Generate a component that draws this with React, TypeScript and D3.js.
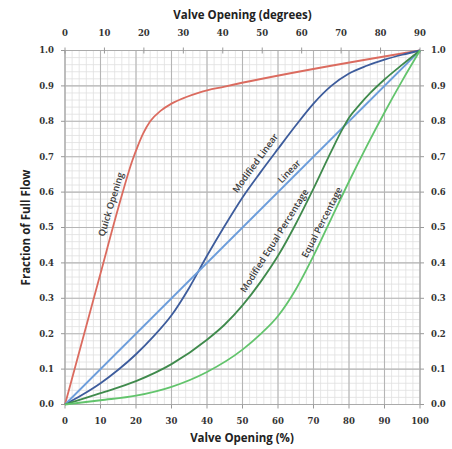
import React from 'react';
import * as d3 from 'd3';

// valve opening (%) vs fraction of full flow
const quickX = [0, 5, 10, 15, 19, 20.5, 22, 24, 27, 30, 34, 38, 45, 100];
const quickY = [0, 0.185, 0.37, 0.555, 0.69, 0.73, 0.765, 0.8, 0.83, 0.85, 0.868, 0.882, 0.898, 1.0];

const modLinX = [0, 5, 10, 15, 20, 25, 30, 35, 40, 45, 50, 55, 60, 65, 70, 75, 80, 85, 90, 95, 100];
const modLinY = [0, 0.028, 0.06, 0.098, 0.142, 0.193, 0.252, 0.33, 0.42, 0.505, 0.585, 0.655, 0.722, 0.788, 0.85, 0.9, 0.935, 0.957, 0.974, 0.988, 1.0];

const linX = [0, 100];
const linY = [0, 1];

const modEqX = [0, 10, 20, 30, 40, 45, 50, 55, 60, 65, 70, 75, 78, 80, 83, 86, 90, 95, 100];
const modEqY = [0, 0.032, 0.066, 0.114, 0.183, 0.226, 0.28, 0.345, 0.42, 0.51, 0.61, 0.715, 0.775, 0.81, 0.847, 0.88, 0.918, 0.96, 1.0];

const eqX = [0, 10, 20, 30, 40, 50, 55, 60, 65, 70, 75, 80, 85, 90, 95, 100];
const eqY = [0, 0.012, 0.025, 0.05, 0.092, 0.155, 0.198, 0.25, 0.325, 0.42, 0.525, 0.63, 0.73, 0.825, 0.915, 1.0];

const seriesNames = ['Quick Opening', 'Modified Linear', 'Linear', 'Modified Equal Percentage', 'Equal Percentage'];
const seriesColors = ['#db6b5f', '#3d5c9c', '#6c9ddb', '#3f8a4c', '#62c46c'];
const seriesXs = [quickX, modLinX, linX, modEqX, eqX];
const seriesYs = [quickY, modLinY, linY, modEqY, eqY];

// label anchors (data coords) and rotation
const labelX = [13.4, 54.0, 63.5, 59.4, 72.8];
const labelY = [0.564, 0.679, 0.655, 0.46, 0.512];
const labelAngle = [-73, -54, -46, -58, -63];

const pctTicks = d3.range(0, 101, 10);
const degTicks = d3.range(0, 91, 10);
const fracTicks = d3.range(0, 1.01, 0.1);

const W = 452;
const H = 449;
const left = 65, right = 420, top = 50.5, bottom = 404.5;

const App: React.FC = () => {
  const x = d3.scaleLinear().domain([0, 100]).range([left, right]);
  const xDeg = d3.scaleLinear().domain([0, 90]).range([left, right]);
  const y = d3.scaleLinear().domain([0, 1]).range([bottom, top]);

  const line = d3.line<[number, number]>()
    .x(d => x(d[0]))
    .y(d => y(d[1]))
    .curve(d3.curveMonotoneX);

  const minorX = d3.range(0, 100.01, 2);
  const minorY = d3.range(0, 1.001, 0.02);

  const tickFont = '"DejaVu Serif", serif';
  const titleFont = '"Open Sans", sans-serif';

  return (
    <svg width={W} height={H} style={{ position: 'absolute', left: 0, top: 0, background: '#fff' }}>
      {/* minor grid */}
      <g stroke="#e0e0e0" strokeWidth={0.8}>
        {minorX.map(v => <line key={'mx' + v} x1={x(v)} x2={x(v)} y1={top} y2={bottom} />)}
        {minorY.map(v => <line key={'my' + v} x1={left} x2={right} y1={y(v)} y2={y(v)} />)}
      </g>
      {/* major grid */}
      <g stroke="#b5b5b5" strokeWidth={1.1}>
        {pctTicks.map(v => <line key={'gx' + v} x1={x(v)} x2={x(v)} y1={top} y2={bottom} />)}
        {fracTicks.map(v => <line key={'gy' + v} x1={left} x2={right} y1={y(v)} y2={y(v)} />)}
      </g>
      <rect x={left} y={top} width={right - left} height={bottom - top} fill="none" stroke="#aaa" strokeWidth={1} />

      {/* tick marks */}
      <g stroke="#999" strokeWidth={1}>
        {pctTicks.map(v => <line key={'tb' + v} x1={x(v)} x2={x(v)} y1={bottom} y2={bottom + 4} />)}
        {degTicks.map(v => <line key={'tt' + v} x1={xDeg(v)} x2={xDeg(v)} y1={top - 3} y2={top + 3} />)}
        {fracTicks.map(v => <line key={'tl' + v} x1={left - 4} x2={left} y1={y(v)} y2={y(v)} />)}
        {fracTicks.map(v => <line key={'tr' + v} x1={right} x2={right + 4} y1={y(v)} y2={y(v)} />)}
      </g>

      {/* curves */}
      {seriesNames.map((name, i) => {
        const pts = seriesXs[i].map((xv, j) => [xv, seriesYs[i][j]] as [number, number]);
        return (
          <path key={name} d={line(pts) || ''} fill="none" stroke={seriesColors[i]} strokeWidth={1.8} />
        );
      })}

      {/* curve labels, sitting just above their curve */}
      {seriesNames.map((name, i) => (
        <text key={'l' + name}
          transform={`translate(${x(labelX[i])},${y(labelY[i])}) rotate(${labelAngle[i]})`}
          textAnchor="middle" y={-2} dominantBaseline="central"
          fontFamily={titleFont} fontWeight={600} fontSize={9.3} fill="#3c3c3c">
          {name}
        </text>
      ))}

      {/* tick labels */}
      <g fontFamily={tickFont} fontWeight="bold" fontSize={8.5} fill="#333">
        {pctTicks.map(v => (
          <text key={'lb' + v} x={x(v)} y={bottom + 19} textAnchor="middle">{v}</text>
        ))}
        {degTicks.map(v => (
          <text key={'lt' + v} x={xDeg(v)} y={top - 15} textAnchor="middle">{v}</text>
        ))}
        {fracTicks.map(v => (
          <text key={'ll' + v} x={left - 11} y={y(v)} dy="0.35em" textAnchor="end">{d3.format('.1f')(v)}</text>
        ))}
        {fracTicks.map(v => (
          <text key={'lr' + v} x={right + 11} y={y(v)} dy="0.35em" textAnchor="start">{d3.format('.1f')(v)}</text>
        ))}
      </g>

      {/* axis titles */}
      <text x={(left + right) / 2} y={19} textAnchor="middle" fontFamily={titleFont} fontWeight="bold" fontSize={11.5} fill="#222">
        Valve Opening (degrees)
      </text>
      <text x={(left + right) / 2 - 0.5} y={442} textAnchor="middle" fontFamily={titleFont} fontWeight="bold" fontSize={11.5} fill="#222">
        Valve Opening (%)
      </text>
      <text transform={`translate(25,${(top + bottom) / 2}) rotate(-90)`} textAnchor="middle" dominantBaseline="central"
        fontFamily={titleFont} fontWeight="bold" fontSize={11.5} fill="#222">
        Fraction of Full Flow
      </text>
    </svg>
  );
};

export default App;
